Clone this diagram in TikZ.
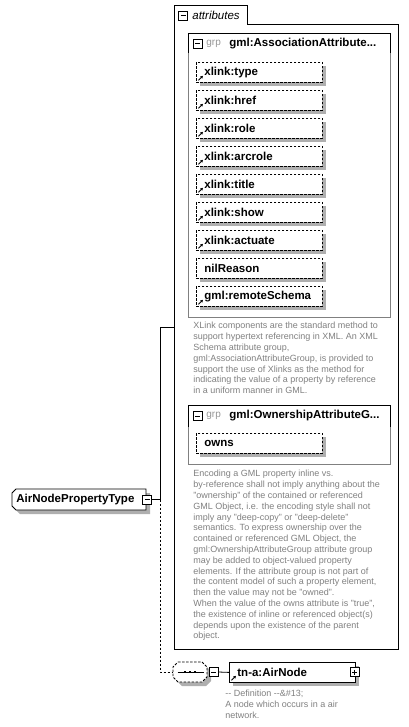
\documentclass[tikz,border=0pt]{standalone}
\usepackage{fontspec}
\setmainfont{Liberation Sans}
\usetikzlibrary{arrows.meta,calc}
\definecolor{shgray}{RGB}{175,175,175}
\definecolor{descgray}{RGB}{128,128,128}
\definecolor{boxgray}{RGB}{128,128,128}
\definecolor{grpgray}{RGB}{150,150,150}
\newcommand\refarrow[1]{\draw[line width=0.9pt,-{Triangle[length=2.6pt,width=2.8pt]}] ($(#1.south west)+(2.5,-2.5)$) -- ++(4.5,-4.5);}
\newcommand\attrnode[3]{\path[fill=shgray] (200,#2) ++(0,4) rectangle ++(126,20);
  \node[attrbox] (#1) at (196,#2) {#3};}
\begin{document}
\begin{tikzpicture}[x=1pt,y=-1pt,line width=0.8pt,
  boldfont/.style={font=\fontsize{11.5}{13}\selectfont\bfseries},
  descfont/.style={font=\fontsize{9}{10.8}\selectfont,text=descgray},
  dashpat/.style={dash pattern=on 2.5pt off 1.5pt},
  attrbox/.style={draw,fill=white,dashpat,minimum width=126pt,minimum height=20pt,text width=110pt,inner xsep=8pt,inner ysep=0pt,align=left,anchor=north west,boldfont},
  elembox/.style={draw,fill=white,solid,minimum height=20pt,text width=110pt,inner xsep=8pt,inner ysep=0pt,align=left,anchor=north west,boldfont},
  pmbox/.style={draw,fill=white,solid,minimum size=9pt,inner sep=0pt},
  minusbox/.style={pmbox,path picture={\draw[line width=0.8pt] ([xshift=2pt]path picture bounding box.west) -- ([xshift=-2pt]path picture bounding box.east);}},
  plusbox/.style={pmbox,path picture={\draw[line width=0.8pt] ([xshift=2pt]path picture bounding box.west) -- ([xshift=-2pt]path picture bounding box.east) ([yshift=-2pt]path picture bounding box.north) -- ([yshift=2pt]path picture bounding box.south);}},
  desc/.style={descfont,anchor=north west,align=left,inner sep=0pt},
  label/.style={anchor=west,inner sep=0pt}
]
\useasboundingbox (0,0) rectangle (408,727);
% outer attributes container
\draw (174,649) -- (174,5) -- (247,5) -- (247,24) -- (398,24) -- (398,649) -- cycle;
\node[minusbox] (attrminus) at (183,15.5) {};
\node[label,font=\fontsize{11.5}{13}\selectfont\itshape] (attrlabel) at (192,15) {attributes};
% group 1
\draw[boxgray] (188,53) -- (188,317) -- (390,317) -- (390,53);
\draw (188,53) -- (188,33) -- (390,33) -- (390,53);
\node[minusbox] (g1minus) at (197.5,43.5) {};
\node[label,font=\fontsize{10}{12}\selectfont,text=grpgray] (g1grp) at (206,43.5) {grp};
\node[label,boldfont] (g1name) at (229,43.5) {gml:AssociationAttribute...};
\attrnode{a1}{62}{xlink:type}
\attrnode{a2}{90}{xlink:href}
\attrnode{a3}{118}{xlink:role}
\attrnode{a4}{146}{xlink:arcrole}
\attrnode{a5}{174}{xlink:title}
\attrnode{a6}{202}{xlink:show}
\attrnode{a7}{230}{xlink:actuate}
\attrnode{a8}{258}{nilReason}
\attrnode{a9}{286}{gml:remoteSchema}
\refarrow{a1}\refarrow{a2}\refarrow{a3}\refarrow{a4}\refarrow{a5}\refarrow{a6}\refarrow{a7}\refarrow{a9}
\node[desc] (d1) at (193,322) {XLink components are the standard method to\\support hypertext referencing in XML. An XML\\Schema attribute group,\\gml:AssociationAttributeGroup, is provided to\\support the use of Xlinks as the method for\\indicating the value of a property by reference\\in a uniform manner in GML.};
% group 2
\draw[boxgray] (188,427) -- (188,464) -- (390,464) -- (390,427);
\draw (188,427) -- (188,405) -- (390,405) -- (390,427);
\node[minusbox] (g2minus) at (197.5,416) {};
\node[label,font=\fontsize{10}{12}\selectfont,text=grpgray] (g2grp) at (206,416) {grp};
\node[label,boldfont] (g2name) at (229,416) {gml:OwnershipAttributeG...};
\attrnode{owns}{433}{owns}
\node[desc] (d2) at (193,470) {Encoding a GML property inline vs.\\by-reference shall not imply anything about the\\"ownership" of the contained or referenced\\GML Object, i.e. the encoding style shall not\\imply any "deep-copy" or "deep-delete"\\semantics. To express ownership over the\\contained or referenced GML Object, the\\gml:OwnershipAttributeGroup attribute group\\may be added to object-valued property\\elements. If the attribute group is not part of\\the content model of such a property element,\\then the value may not be "owned".\\When the value of the owns attribute is "true",\\the existence of inline or referenced object(s)\\depends upon the existence of the parent\\object.};
% complex type
\fill[shgray] (20,493) -- (150,493) -- (150,514) -- (20,514) -- (16,510) -- (16,497) -- cycle;
\draw[fill=white] (16,489) -- (146,489) -- (146,510) -- (16,510) -- (12,506) -- (12,493) -- cycle;
\node[draw=none,minimum width=134pt,minimum height=21pt,inner sep=0pt] (apt) at (79,499.5) {};
\node[label,boldfont] (aptlabel) at (16,499.5) {AirNodePropertyType};
\node[minusbox] (aptminus) at (147,499.5) {};
% sequence compositor
\fill[shgray] (182,666) -- (206,666) -- (211,671) -- (211,681) -- (206,686) -- (182,686) -- (177,681) -- (177,671) -- cycle;
\draw[fill=white,dashpat] (178,662) -- (202,662) -- (207,667) -- (207,677) -- (202,682) -- (178,682) -- (173,677) -- (173,667) -- cycle;
\node[draw=none,minimum width=34pt,minimum height=20pt,inner sep=0pt] (seq) at (190,672) {};
\draw[line width=1pt] ($(seq.west)+(5,0)$) -- ($(seq.east)+(-3,0)$);
\foreach \dx in {185,190,195} \fill (\dx-1.3,670.7) rectangle (\dx+1.3,673.3);
\node[minusbox] (seqminus) at (213.5,672) {};
% element
\fill[shgray] (233,666) rectangle (359,686);
\node[elembox] (airnode) at (229,662) {tn-a:AirNode};
\refarrow{airnode}
\node[plusbox] (airplus) at (354.5,672) {};
\node[desc] (d3) at (225,690) {-{}- Definition -{}-\&\#13;\\A node which occurs in a air\\network.};
% connectors
\coordinate (j1) at (160,499.5);
\coordinate (attrjoin) at (174,327);
\draw (aptminus.east) -- (j1);
\draw (j1) |- (attrjoin);
\draw[dashpat] (j1) |- (seq.west);
\draw (seqminus.east) -- (airnode.west);
\end{tikzpicture}
\end{document}
